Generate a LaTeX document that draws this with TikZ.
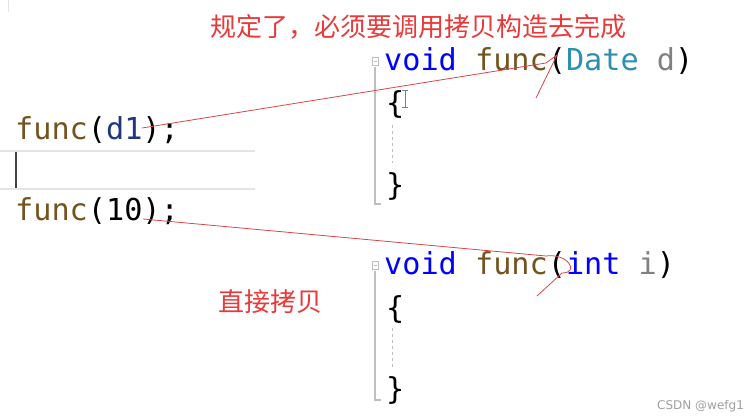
\documentclass[tikz,border=0pt]{standalone}
\usepackage{fontspec}
\setmonofont{DejaVu Sans Mono}
\setsansfont{DejaVu Sans}
\newfontfamily\cjkfont{Noto Sans CJK SC}
\definecolor{kwBlue}{RGB}{0,0,255}
\definecolor{fnBrown}{RGB}{116,83,31}
\definecolor{tyTeal}{RGB}{43,145,175}
\definecolor{parGray}{RGB}{128,128,128}
\definecolor{varBlue}{RGB}{31,55,127}
\definecolor{noteRed}{RGB}{232,58,58}
\definecolor{penRed}{RGB}{214,70,70}
\definecolor{lineGray}{RGB}{228,228,232}
\definecolor{foldGray}{RGB}{190,190,190}
\usetikzlibrary{positioning}

\begin{document}
\begin{tikzpicture}[
    x=1pt, y=-1pt,
    code/.style={anchor=base west, inner sep=0pt, font=\ttfamily\fontsize{30.2}{31}\selectfont},
    note/.style={anchor=base west, inner sep=0pt, font=\cjkfont\fontsize{26}{26}\selectfont, text=noteRed},
    fold/.style={draw=foldGray, line width=1.3pt},
    guide/.style={draw=foldGray, line width=1pt, dash pattern=on 3pt off 3pt},
    scrawl/.style={draw=penRed, line width=0.8pt, line join=round}
]
\useasboundingbox (0,0) rectangle (748,417);

% left editor: the two calls
\draw[draw=lineGray, line width=1pt] (8,0) -- (8,12);
\draw[draw=lineGray, line width=1.5pt] (0,151) -- (255,151);
\draw[draw=lineGray, line width=1.5pt] (0,189) -- (255,189);
\draw[draw=black!75, line width=1.5pt] (16,152) -- (16,188);
\node[code] (call1) at (15,140) {\textcolor{fnBrown}{func}(\textcolor{varBlue}{d1});};
\node[code] (call2) at (15,221) {\textcolor{fnBrown}{func}(10);};

% right editor: the two definitions
\node[code] (def1) at (384,71) {\textcolor{kwBlue}{void} \textcolor{fnBrown}{func}(\textcolor{tyTeal}{Date} \textcolor{parGray}{d})};
\node[code] (open1) at (386,114) {\{};
\node[code] (close1) at (386,196) {\}};
\node[code] (def2) at (384,275) {\textcolor{kwBlue}{void} \textcolor{fnBrown}{func}(\textcolor{kwBlue}{int} \textcolor{parGray}{i})};
\node[code] (open2) at (386,318) {\{};
\node[code] (close2) at (386,399) {\}};

% fold markers and guides
\draw[draw=foldGray, line width=0.8pt] (372,57) rectangle (378,65);
\draw[draw=foldGray, line width=0.8pt] (373.5,61) -- (376.5,61);
\draw[fold] (375,67) -- (375,204) -- (381,204);
\draw[draw=foldGray, line width=0.8pt] (372,261) rectangle (378,269);
\draw[draw=foldGray, line width=0.8pt] (373.5,265) -- (376.5,265);
\draw[fold] (375,271) -- (375,400) -- (381,400);
\draw[guide] (392,125) -- (392,163);
\draw[guide] (392,328) -- (392,367);

% text cursor
\draw[draw=black!50, line width=0.8pt] (405,90) -- (405,107);
\draw[draw=black!50, line width=0.8pt] (402,90) -- (408,90);
\draw[draw=black!50, line width=0.8pt] (402,107) -- (408,107);

% red notes
\node[note] (rule) at (210,37) {规定了，必须要调用拷贝构造去完成};
\node[note] (plain) at (218,312) {直接拷贝};

% hand-drawn strokes
\coordinate (from1) at (142,128);
\coordinate (bend1) at (546,63);
\coordinate (tip1) at (557,55);
\coordinate (tail1) at (536,98);
\draw[scrawl] (from1) -- (bend1) -- (tip1) -- (tail1);
\coordinate (from2) at (143,219);
\coordinate (bend2) at (546,256);
\coordinate (tail2) at (537,296);
\draw[scrawl] (from2) -- (bend2) .. controls (568,253) and (580,273) .. (562,273) -- (tail2);

\node[anchor=base west, inner sep=0pt, font=\sffamily\fontsize{12}{12}\selectfont, text=black!38] (mark) at (657,409) {CSDN @wefg1};
\end{tikzpicture}
\end{document}
